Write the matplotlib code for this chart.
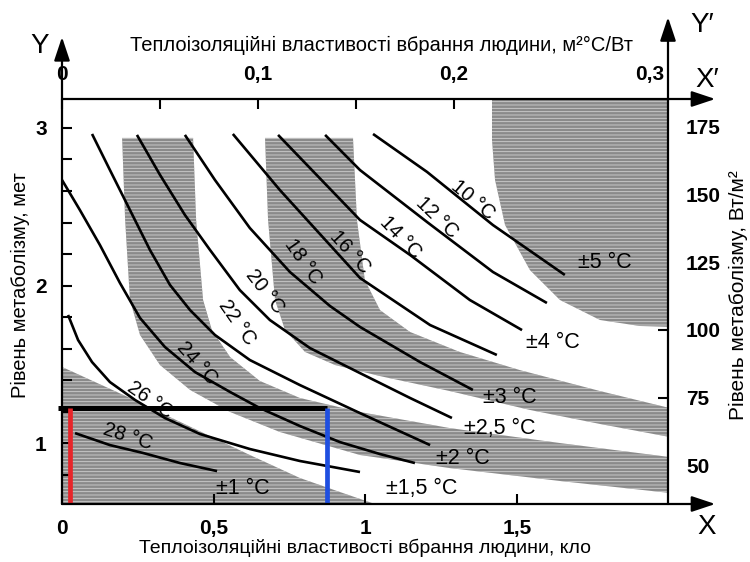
import matplotlib
matplotlib.use('Agg')
import matplotlib.pyplot as plt

plt.rcParams['font.family'] = ['Liberation Sans', 'DejaVu Sans']
plt.rcParams['hatch.color'] = '#d0d0d0'
plt.rcParams['hatch.linewidth'] = 0.6

# ---------------- data (clo, met) ----------------
CLO_TO_SI = 0.155      # m2.C/W per clo
MET_TO_WM2 = 58.2      # W/m2 per met

iso_labels = ['10 °C', '12 °C', '14 °C', '16 °C', '18 °C', '20 °C', '22 °C', '24 °C', '26 °C', '28 °C']
t10_clo = [1.025, 1.203, 1.420, 1.657]
t10_met = [2.962, 2.721, 2.384, 2.067]
t12_clo = [0.867, 0.982, 1.203, 1.420, 1.598]
t12_met = [2.956, 2.733, 2.403, 2.086, 1.889]
t14_clo = [0.712, 0.982, 1.147, 1.344, 1.516]
t14_met = [2.956, 2.416, 2.194, 1.908, 1.717]
t16_clo = [0.563, 0.718, 0.883, 0.982, 1.213, 1.433]
t16_met = [2.962, 2.606, 2.257, 2.048, 1.749, 1.559]
t18_clo = [0.405, 0.504, 0.619, 0.751, 0.883, 0.982, 1.180, 1.354]
t18_met = [2.956, 2.670, 2.365, 2.086, 1.870, 1.737, 1.514, 1.337]
t20_clo = [0.247, 0.323, 0.405, 0.488, 0.586, 0.685, 0.817, 0.982, 1.147, 1.285]
t20_met = [2.956, 2.702, 2.448, 2.225, 1.971, 1.781, 1.603, 1.444, 1.286, 1.159]
t22_clo = [0.099, 0.158, 0.224, 0.290, 0.356, 0.422, 0.504, 0.619, 0.784, 0.982, 1.213]
t22_met = [2.962, 2.733, 2.479, 2.225, 2.003, 1.844, 1.686, 1.527, 1.368, 1.190, 0.987]
t24_clo = [0.0, 0.059, 0.125, 0.191, 0.257, 0.339, 0.438, 0.554, 0.652, 0.784, 0.916, 1.048, 1.163]
t24_met = [2.670, 2.479, 2.257, 2.016, 1.794, 1.610, 1.451, 1.324, 1.222, 1.108, 1.006, 0.930, 0.873]
t26_clo = [0.020, 0.053, 0.099, 0.158, 0.241, 0.339, 0.455, 0.619, 0.784, 0.982]
t26_met = [1.813, 1.654, 1.514, 1.387, 1.273, 1.159, 1.057, 0.962, 0.886, 0.816]
t28_clo = [0.043, 0.158, 0.267, 0.389, 0.511]
t28_met = [1.063, 0.987, 0.937, 0.873, 0.822]

# tolerance-band boundaries
b1_clo = [0.0, 0.224, 0.432, 0.619, 0.784, 0.916, 1.031]
b1_met = [1.483, 1.286, 1.095, 0.924, 0.778, 0.689, 0.613]
b2_clo = [0.198, 0.208, 0.224, 0.257, 0.323, 0.422, 0.554, 0.718, 0.982, 1.278, 1.641, 2.003]
b2_met = [2.937, 2.416, 1.908, 1.686, 1.495, 1.337, 1.197, 1.070, 0.924, 0.841, 0.759, 0.683]
b3_clo = [0.432, 0.442, 0.465, 0.494, 0.554, 0.652, 0.784, 0.982, 1.278, 1.641, 2.003]
b3_met = [2.937, 2.416, 1.908, 1.717, 1.546, 1.394, 1.286, 1.197, 1.095, 1.000, 0.911]
b4_clo = [0.669, 0.679, 0.702, 0.735, 0.801, 0.900, 1.048, 1.278, 1.542, 1.773, 2.003]
b4_met = [2.937, 2.416, 1.908, 1.717, 1.578, 1.495, 1.425, 1.330, 1.210, 1.121, 1.038]
b5_clo = [0.959, 0.972, 0.998, 1.048, 1.147, 1.311, 1.509, 1.773, 2.003]
b5_met = [2.937, 2.416, 2.035, 1.844, 1.705, 1.578, 1.463, 1.330, 1.222]
b6_clo = [1.417, 1.417, 1.427, 1.460, 1.542, 1.641, 1.773, 1.904, 2.003]
b6_met = [3.184, 2.924, 2.670, 2.384, 2.098, 1.908, 1.781, 1.743, 1.737]

tol_labels = ['±5 °C', '±4 °C', '±3 °C', '±2,5 °C', '±2 °C', '±1,5 °C', '±1 °C']

# example: sedentary activity line and clothing markers
act_met = 1.22
clo_red = 0.026
clo_blue = 0.873

x_ticks = [0, 0.5, 1, 1.5]
x_ticklabels = ['0', '0,5', '1', '1,5']
y_ticks = [1, 2, 3]
y_ticklabels = ['1', '2', '3']
top_ticks = [0, 0.1, 0.2, 0.3]
top_ticklabels = ['0', '0,1', '0,2', '0,3']
right_ticks = [50, 75, 100, 125, 150, 175]

# ---------------- figure ----------------
W, H = 750, 562
fig = plt.figure(figsize=(7.5, 5.62), dpi=100)
ax = fig.add_axes([62 / W, 58 / H, 606 / W, 405 / H])
XMIN, XMAX = 0.0, 1.997
YMIN, YMAX = 0.613, 3.184
ax.set_xlim(XMIN, XMAX)
ax.set_ylim(YMIN, YMAX)
for s in ax.spines.values():
    s.set_visible(False)

gray = '#8a8a8a'
band_kw = dict(facecolor=gray, hatch='-----', linewidth=0, zorder=1)
# +-1 region
ax.fill(b1_clo + [0.0], b1_met + [YMIN], **band_kw)
# +-2 band
ax.fill(b2_clo + b3_clo[::-1], b2_met + b3_met[::-1], **band_kw)
# +-3 band
ax.fill(b4_clo + b5_clo[::-1], b4_met + b5_met[::-1], **band_kw)
# +-5 region
ax.fill(b6_clo + [XMAX, XMAX], b6_met + [YMAX, YMAX], **band_kw)

curves = [(t10_clo, t10_met), (t12_clo, t12_met), (t14_clo, t14_met), (t16_clo, t16_met),
          (t18_clo, t18_met), (t20_clo, t20_met), (t22_clo, t22_met), (t24_clo, t24_met),
          (t26_clo, t26_met), (t28_clo, t28_met)]
for cx, cy in curves:
    ax.plot(cx, cy, color='black', lw=1.9, zorder=3, solid_capstyle='butt')

iso_pos = [(1.354, 2.543, -40), (1.236, 2.429, -44), (1.114, 2.308, -46), (0.949, 2.213, -48),
           (0.794, 2.149, -55), (0.669, 1.959, -52), (0.577, 1.768, -55), (0.445, 1.508, -48),
           (0.290, 1.273, -35), (0.217, 1.038, -18)]
for lab, (x, y, r) in zip(iso_labels, iso_pos):
    ax.text(x, y, lab, rotation=r, rotation_mode='anchor', ha='center', va='center',
            fontsize=14.5, zorder=4)

tol_pos = [(1.789, 2.149), (1.618, 1.641), (1.476, 1.292), (1.443, 1.095), (1.321, 0.905),
           (1.186, 0.714), (0.596, 0.714)]
for lab, (x, y) in zip(tol_labels, tol_pos):
    ax.text(x, y, lab, ha='center', va='center', fontsize=15.5, zorder=4)

# activity line and clothing markers
ax.plot([-0.012, clo_blue], [act_met, act_met], color='black', lw=3.6, zorder=5,
        solid_capstyle='butt', clip_on=False)
ax.plot([clo_red, clo_red], [YMIN, act_met], color='#e8252a', lw=3.4, zorder=5, solid_capstyle='butt')
ax.plot([clo_blue, clo_blue], [YMIN, act_met], color='#1f4fe0', lw=3.4, zorder=5, solid_capstyle='butt')

# ---------------- axes / ticks ----------------
tick_kw = dict(direction='in', length=7, width=1.5, color='black')
ax.set_xticks(x_ticks)
ax.set_xticklabels(x_ticklabels)
ax.set_yticks(y_ticks)
ax.set_yticklabels(y_ticklabels)
ax.set_yticks([0.8, 1.2, 1.4, 1.6, 1.8, 2.2, 2.4, 2.6, 2.8, 3.0], minor=True)
ax.tick_params(axis='x', which='both', pad=11, labelsize=15, **tick_kw)
ax.tick_params(axis='y', which='both', pad=11, labelsize=15, **tick_kw)

top = ax.secondary_xaxis('top', functions=(lambda c: c * CLO_TO_SI, lambda r: r / CLO_TO_SI))
top.set_xticks(top_ticks)
top.set_xticklabels(top_ticklabels)
top.set_xticks([0.05, 0.15, 0.25], minor=True)
top.tick_params(axis='x', which='both', pad=11, labelsize=15, **tick_kw)
for s in top.spines.values():
    s.set_visible(False)

right = ax.secondary_yaxis('right', functions=(lambda m: m * MET_TO_WM2, lambda w: w / MET_TO_WM2))
right.set_yticks(right_ticks)
right.set_yticklabels([str(v) for v in right_ticks])
right.tick_params(axis='y', which='both', pad=13, labelsize=15, **tick_kw)
for s in right.spines.values():
    s.set_visible(False)

for lab in (ax.get_xticklabels() + ax.get_yticklabels() + top.get_xticklabels()
            + right.get_yticklabels()):
    lab.set_fontweight('bold')
top.get_xticklabels()[0].set_bbox(dict(facecolor='white', edgecolor='none', pad=1))

# axis lines with arrows
arr = dict(arrowstyle='-|>,head_length=0.9,head_width=0.3', lw=1.6, color='black',
           shrinkA=0, shrinkB=0, mutation_scale=16)
ax.annotate('', xy=(1.078, 0), xytext=(0, 0), xycoords='axes fraction', arrowprops=arr, zorder=6)
ax.annotate('', xy=(1.078, 1), xytext=(0, 1), xycoords='axes fraction', arrowprops=arr, zorder=6)
ax.annotate('', xy=(0, 1.153), xytext=(0, 0), xycoords='axes fraction', arrowprops=arr, zorder=2)
ax.annotate('', xy=(1, 1.202), xytext=(1, 0), xycoords='axes fraction', arrowprops=arr, zorder=6)

# axis titles and letters
def ft(x, y, s, **kw):
    fig.text(x / W, 1 - y / H, s, **kw)

ft(365, 548, 'Теплоізоляційні властивості вбрання людини, кло', ha='center', va='center', fontsize=14)
ft(381, 45, 'Теплоізоляційні властивості вбрання людини, м²°C/Вт', ha='center', va='center', fontsize=14.5)
ft(20, 285, 'Рівень метаболізму, мет', ha='center', va='center', rotation=90, fontsize=14.5)
ft(738, 295, 'Рівень метаболізму, Вт/м²', ha='center', va='center', rotation=90, fontsize=15)
ft(40, 46, 'Y', ha='center', va='center', fontsize=20)
ft(702, 25, 'Y′', ha='center', va='center', fontsize=20)
ft(707, 80, 'X′', ha='center', va='center', fontsize=20)
ft(707, 527, 'X', ha='center', va='center', fontsize=20)

fig.savefig('out.png', dpi=100)
